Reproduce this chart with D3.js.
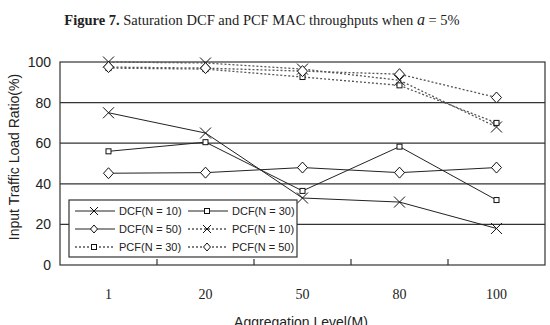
<!DOCTYPE html>
<html>
<head>
<meta charset="utf-8">
<script src="https://cdn.jsdelivr.net/npm/d3@7"></script>
<style>
  body { margin: 0; background: #fff; }
  svg { display: block; }
</style>
</head>
<body>
<div class="chart"></div>
<script>
let width = 550,
    height = 325;

const levels = ["1", "20", "50", "80", "100"];
const yTicks = [0, 20, 40, 60, 80, 100];

const dcf10 = [75, 65, 33, 31, 18];
const dcf30 = [56, 60.5, 36.5, 58.3, 32];
const dcf50 = [45.2, 45.5, 48, 45.5, 48];
const pcf10 = [100, 99.5, 96.5, 91, 68];
const pcf30 = [97, 96.5, 92.6, 88.5, 70];
const pcf50 = [97.5, 97, 95.5, 94, 82.5];

const series = [
    { name: "DCF(N = 10)", values: dcf10, mark: "x", dotted: false },
    { name: "DCF(N = 30)", values: dcf30, mark: "square", dotted: false },
    { name: "DCF(N = 50)", values: dcf50, mark: "diamond", dotted: false },
    { name: "PCF(N = 10)", values: pcf10, mark: "x", dotted: true },
    { name: "PCF(N = 30)", values: pcf30, mark: "square", dotted: true },
    { name: "PCF(N = 50)", values: pcf50, mark: "diamond", dotted: true }
];

const plot = { left: 60, right: 545, top: 62, bottom: 265 };

const svg = d3.select(".chart").append("svg")
    .attr("width", width)
    .attr("height", height);

const x = d3.scaleBand().domain(levels).range([plot.left, plot.right]);
const y = d3.scaleLinear().domain([0, 100]).range([plot.bottom, plot.top]);
const cx = d => x(d) + x.bandwidth() / 2;

// title
const title = svg.append("text")
    .attr("x", 262)
    .attr("y", 25)
    .attr("text-anchor", "middle")
    .style("font-family", "Liberation Serif, Times New Roman, serif")
    .style("font-size", "14.5px")
    .style("fill", "#222");
title.append("tspan").style("font-weight", "bold").text("Figure 7.");
title.append("tspan").text(" Saturation DCF and PCF MAC throughputs when ");
title.append("tspan").style("font-style", "italic").style("font-size", "16px").text("a");
title.append("tspan").text(" = 5%");

// gridlines
svg.append("g")
    .selectAll("line")
    .data(yTicks.filter(t => t > 0 && t < 100))
    .join("line")
    .attr("x1", plot.left)
    .attr("x2", plot.right)
    .attr("y1", d => y(d))
    .attr("y2", d => y(d))
    .style("stroke", "#333")
    .style("stroke-width", 1.2);

// frame
svg.append("rect")
    .attr("x", plot.left)
    .attr("y", plot.top)
    .attr("width", plot.right - plot.left)
    .attr("height", plot.bottom - plot.top)
    .style("fill", "none")
    .style("stroke", "#333")
    .style("stroke-width", 1.2);

// y axis labels
svg.append("g")
    .selectAll("text")
    .data(yTicks)
    .join("text")
    .attr("x", 51)
    .attr("y", d => y(d) + 5)
    .attr("text-anchor", "end")
    .style("font-family", "Liberation Sans, Arial, sans-serif")
    .style("font-size", "14px")
    .style("fill", "#222")
    .text(d => d);

// x tick marks between categories
svg.append("g")
    .selectAll("line")
    .data(levels.slice(1))
    .join("line")
    .attr("x1", d => x(d))
    .attr("x2", d => x(d))
    .attr("y1", plot.bottom)
    .attr("y2", plot.bottom - 6)
    .style("stroke", "#333")
    .style("stroke-width", 1.2);

// x labels
svg.append("g")
    .selectAll("text")
    .data(levels)
    .join("text")
    .attr("x", d => cx(d))
    .attr("y", 299)
    .attr("text-anchor", "middle")
    .style("font-family", "Liberation Serif, Times New Roman, serif")
    .style("font-size", "14px")
    .style("fill", "#222")
    .text(d => d);

svg.append("text")
    .attr("x", 301)
    .attr("y", 327)
    .attr("text-anchor", "middle")
    .style("font-family", "Liberation Sans, Arial, sans-serif")
    .style("font-size", "14px")
    .style("fill", "#222")
    .text("Aggregation Level(M)");

svg.append("text")
    .attr("transform", "translate(19,157) rotate(-90)")
    .attr("text-anchor", "middle")
    .style("font-family", "Liberation Sans, Arial, sans-serif")
    .style("font-size", "14px")
    .style("fill", "#222")
    .text("Input Traffic Load Ratio(%)");

function drawMark(g, type, px, py, r) {
    if (type === "x") {
        g.append("path")
            .attr("d", `M${px - r},${py - r}L${px + r},${py + r}M${px - r},${py + r}L${px + r},${py - r}`)
            .style("stroke", "#111").style("stroke-width", 1).style("fill", "none");
    } else if (type === "square") {
        g.append("rect")
            .attr("x", px - 2.5).attr("y", py - 2.5)
            .attr("width", 5).attr("height", 5)
            .style("stroke", "#111").style("stroke-width", 1).style("fill", "#fff");
    } else {
        g.append("path")
            .attr("d", `M${px},${py - r}L${px + r - 0.5},${py}L${px},${py + r}L${px - r + 0.5},${py}Z`)
            .style("stroke", "#111").style("stroke-width", 1).style("fill", "#fff");
    }
}

const line = d3.line()
    .x((v, i) => cx(levels[i]))
    .y(v => y(v));

series.forEach(s => {
    const g = svg.append("g");
    g.append("path")
        .attr("d", line(s.values))
        .style("fill", "none")
        .style("stroke", s.dotted ? "#555" : "#222")
        .style("stroke-width", s.dotted ? 1.3 : 1)
        .style("stroke-dasharray", s.dotted ? "2,2" : null);
    s.values.forEach((v, i) => drawMark(g, s.mark, cx(levels[i]), y(v), 5.5));
});

// legend
const legend = svg.append("g");
legend.append("rect")
    .attr("x", 69)
    .attr("y", 200)
    .attr("width", 228)
    .attr("height", 57)
    .style("fill", "#fff")
    .style("stroke", "#333")
    .style("stroke-width", 1.2);

series.forEach((s, i) => {
    const col = i % 2,
        row = Math.floor(i / 2);
    const lx = 75 + col * 113,
        ly = 211 + row * 18;
    const g = legend.append("g");
    g.append("line")
        .attr("x1", lx).attr("x2", lx + 40)
        .attr("y1", ly).attr("y2", ly)
        .style("stroke", s.dotted ? "#555" : "#222")
        .style("stroke-width", s.dotted ? 1.3 : 1)
        .style("stroke-dasharray", s.dotted ? "2,2" : null);
    drawMark(g, s.mark, lx + 19, ly, 4);
    g.append("text")
        .attr("x", lx + 44)
        .attr("y", ly + 4)
        .style("font-family", "Liberation Sans, Arial, sans-serif")
        .style("font-size", "11px")
        .style("fill", "#222")
        .text(s.name);
});
</script>
</body>
</html>
